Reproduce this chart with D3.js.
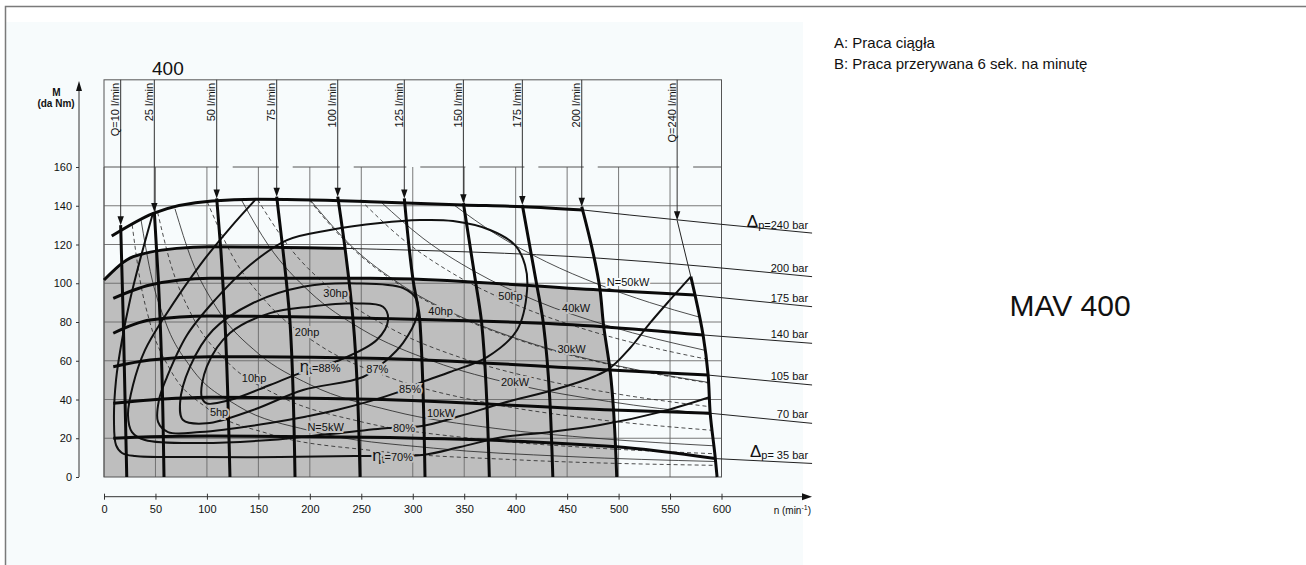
<!DOCTYPE html>
<html>
<head>
<meta charset="utf-8">
<script src="https://cdn.jsdelivr.net/npm/d3@7"></script>
<style>
  body { margin: 0; background: #fff; }
  svg text { font-family: "Liberation Sans", Arial, sans-serif; fill: #111; }
</style>
</head>
<body>
<div id="chart"></div>
<script>
// ---- data (rpm, torque in daNm) ----
const rpmTicks = [0, 50, 100, 150, 200, 250, 300, 350, 400, 450, 500, 550, 600];
const torqueTicks = [0, 20, 40, 60, 80, 100, 120, 140, 160];
const boxTop = 205;

// continuous operation area (A)
const regionA = [[0, 0], [0, 101.7], [28.5, 113.7], [70.6, 118], [103, 118.9], [234.2, 118], [237.4, 102.6],
  [258.5, 102.6], [482, 96.5], [485.2, 79.3], [491.7, 55.2], [498.2, 0]];

// pressure drop lines
const pressureNames = ['240', '200', '175', '140', '105', '70', '35'];
const p240 = [[7.5, 124.4], [47.9, 136.1], [105, 142.5], [148.4, 143.3], [258.5, 142.1], [348.9, 140.4], [407.2, 139.5], [465.5, 137.8]];
const p240thin = [[465.5, 137.8], [511, 135.2], [688, 125.9]];
const p200 = [[0, 101.7], [28.5, 113.7], [70.6, 118], [103, 118.9], [234.2, 118]];
const p200thin = [[234.2, 118], [482, 112.9], [688, 103.4]];
const p175 = [[9, 92.2], [44.7, 99.1], [103, 102.6], [258.5, 102.6], [482, 96.5], [574.3, 93.9]];
const p175thin = [[574.3, 93.9], [688, 87.9]];
const p140 = [[9, 74.2], [44.7, 81], [103, 83.1], [258.5, 81.9], [485, 77.6], [582.1, 73.3]];
const p140thin = [[582.1, 73.3], [688, 69]];
const p105 = [[9, 56.9], [44.7, 60.4], [103, 62.1], [258.5, 61.3], [492, 55.2], [587, 52.6]];
const p105thin = [[587, 52.6], [688, 47.5]];
const p70 = [[9, 38], [44.7, 39.7], [103, 41.1], [258.5, 40.1], [495, 34.6], [589, 32.9]];
const p70thin = [[589, 32.9], [688, 27.7]];
const p35 = [[9, 20], [44.7, 20.8], [103, 21.2], [258.5, 20.5], [498, 15.6], [593.8, 9.5]];
const p35thin = [[593.8, 9.5], [688, 7]];

// flow lines
const flowNames = ['Q=10 l/min', '25 l/min', '50 l/min', '75 l/min', '100 l/min', '125 l/min',
  '150 l/min', '175 l/min', '200 l/min', 'Q=240 l/min'];
const flowTips = [[16.2, 130], [48.9, 136.8], [109.5, 143.8], [167.8, 144.7], [227.1, 144.7],
  [291.8, 143.8], [349.2, 141.3], [406.5, 140.4], [464.2, 139.5], [556.9, 132.5]];
const flowCurves = [
  [[16.2, 130], [18.8, 79.3], [22.1, 0]],
  [[48.9, 136.8], [52.8, 101.7], [56.1, 56.9], [58.3, 0]],
  [[109.5, 143.8], [113.4, 118], [117.6, 79.3], [122.4, 0]],
  [[167.8, 144.7], [173.7, 118], [180.8, 79.3], [185.6, 0]],
  [[227.1, 144.7], [234.2, 118], [242.3, 79.3], [248.8, 0]],
  [[291.8, 143.8], [300.3, 101.7], [307.1, 79.3], [311.9, 0]],
  [[349.2, 141.3], [360.8, 101.7], [367, 79.3], [374.4, 0]],
  [[406.5, 140.4], [420.5, 99.1], [426.9, 79.3], [436.1, 0]],
  [[464.2, 139.5], [482, 96.5], [485.2, 79.3], [491.7, 55.2], [498.2, 0]],
  [[570.2, 103.4], [574.3, 93.9], [582.1, 73.3], [587, 52.6], [589, 33], [593.8, 10.5], [595.7, 0]]
];

// efficiency contours
const eff70 = [[47.6, 136.3], [35, 112], [25.3, 91.4], [17.5, 70.7], [11.7, 50.1], [9.7, 29.4], [11.7, 16.5], [17.5, 12.4],
  [30.1, 10.8], [93.3, 10.3], [171, 10.3], [244, 10.8], [309, 11.4], [346, 15.5], [387.8, 20.6], [433.4, 23.2],
  [482, 26.8], [540.3, 33.5], [588.9, 41.3]];
const eff80 = [[147.4, 143.3], [122.4, 128.5], [93.3, 109.4], [59.3, 83.1], [39.8, 65.5], [28.2, 47.5], [23.3, 32],
  [27.2, 23.2], [39.8, 19.1], [93.3, 17.5], [161.3, 19.1], [219.6, 22.2], [276, 25.3], [309, 26.3], [346, 31.5],
  [387.8, 38.2], [443.1, 45.9], [488.8, 55.2], [511.2, 66.6], [530.6, 79.5], [550, 91.4], [570.2, 103.4]];
const eff85 = [[309, 49], [336.2, 54.2], [372.2, 61.9], [401.4, 75.9], [411.1, 96.5], [409.1, 109.4], [399.4, 119.7],
  [375.1, 127.5], [339.2, 132.1], [307.1, 132.6], [268.2, 131.1], [219.6, 127.5], [177.8, 122.3], [141.9, 109.4],
  [107.9, 91.4], [80.7, 73.3], [61.2, 51.6], [53.4, 39.7], [52.5, 28.4], [62.2, 23.2], [93.3, 23.2], [161.3, 27.9],
  [226.1, 34.6], [283.8, 43.4]];
const eff87 = [[274.7, 60.4], [290.6, 69.2], [303.9, 82.8], [303.9, 91.4], [290.6, 97.5], [245.6, 99.9], [193.4, 98.2],
  [144.8, 89.8], [105.9, 75.9], [83.6, 57], [73.9, 38.2], [76.8, 29.4], [99.8, 27.7], [144.8, 34.6], [193.4, 44.9],
  [251.7, 51.6]];
const eff88 = [[229.3, 60.4], [265, 70.7], [276, 81], [271.1, 87.9], [245.6, 89.6], [200.2, 87.9], [161.3, 84.6],
  [122.4, 74.3], [99.8, 56.9], [94.9, 41.4], [99.8, 38], [122.4, 39.7], [161.3, 47.5], [188.5, 53.2]];

// constant power lines (kW solid, hp dashed)
const kw5 = [[36, 132.6], [45, 106.1], [60, 79.6], [85, 56.2], [130, 36.7], [200, 23.9], [320, 14.9], [450, 10.6], [594, 8]];
const kw10 = [[69, 138.4], [85, 112.3], [110, 86.8], [150, 63.7], [200, 47.7], [280, 34.1], [380, 25.1], [480, 19.9], [592.6, 16.1]];
const kw20 = [[133.5, 143], [160, 119.4], [200, 95.5], [250, 76.4], [320, 59.7], [400, 47.7], [490, 39], [589, 32.4]];
const kw30 = [[200.5, 142.9], [240, 119.4], [290, 98.8], [350, 81.9], [420, 68.2], [500, 57.3], [587.4, 48.8]];
const kw40 = [[269.2, 141.9], [310, 123.2], [360, 106.1], [420, 90.9], [490, 78], [583.9, 65.4]];
const kw50 = [[339.5, 140.6], [380, 125.6], [430, 111], [480, 99.5], [530, 90.1], [578.6, 82.5]];
const hp5 = [[27.35, 130.2], [35, 101.7], [45, 79.1], [65, 54.8], [100, 35.6], [160, 22.3], [260, 13.7], [400, 8.9], [594.2, 6]];
const hp10 = [[52.1, 136.6], [65, 109.6], [85, 83.8], [120, 59.3], [170, 41.9], [250, 28.5], [360, 19.8], [470, 15.2], [593.5, 12]];
const hp20 = [[100.3, 142], [125, 113.9], [160, 89], [210, 67.8], [280, 50.9], [370, 38.5], [470, 30.3], [590.9, 24.1]];
const hp30 = [[149.2, 143.2], [180, 118.7], [220, 97.1], [280, 76.3], [350, 61], [430, 49.7], [510, 41.9], [588.7, 36.3]];
const hp40 = [[199.4, 142.9], [240, 118.7], [290, 98.2], [350, 81.4], [420, 67.8], [500, 57], [587.4, 48.5]];
const hp50 = [[249, 143], [290, 122.8], [340, 104.7], [400, 89], [470, 75.8], [530, 67.2], [584.9, 60.9]];

// curve labels: text, rpm, torque
const curveLabels = [
  ['5hp', 111.8, 33.6], ['10hp', 145.8, 51.1], ['20hp', 197.3, 74.8], ['30hp', 225, 95],
  ['40hp', 327, 85.8], ['50hp', 395, 93.4], ['N=5kW', 215.3, 25.8], ['10kW', 327.5, 33.2],
  ['20kW', 399.4, 49.2], ['30kW', 454.3, 66.1], ['40kW', 458.7, 87.2], ['N=50kW', 509.2, 100.8],
  ['87%', 265.6, 55.7], ['85%', 297.4, 45.4], ['80%', 291.5, 25.3]
];
const etaLabels = [['88%', 210, 56.3], ['70%', 280.4, 10.5]];

// ---- drawing ----
const W = 1306, H = 565;
const svg = d3.select('#chart').append('svg').attr('width', W).attr('height', H);
svg.append('rect').attr('width', W).attr('height', H).attr('fill', '#fff');
svg.append('rect').attr('x', 6).attr('y', 22).attr('width', 797).attr('height', H - 22).attr('fill', '#f7fbfc');
svg.append('path').attr('d', `M5.5,${H}V6.5H${W}`).attr('fill', 'none').attr('stroke', '#7a7a7a').attr('stroke-width', 1.5);

const x = d3.scaleLinear().domain([0, 600]).range([104, 721.5]);
const y = d3.scaleLinear().domain([0, 160]).range([477, 167]);
const line = d3.line().x(d => x(d[0])).y(d => y(d[1]));
const smooth = d3.line().x(d => x(d[0])).y(d => y(d[1])).curve(d3.curveMonotoneX);
const smoothY = d3.line().x(d => x(d[0])).y(d => y(d[1])).curve(d3.curveMonotoneY);
const loop = d3.line().x(d => x(d[0])).y(d => y(d[1])).curve(d3.curveCatmullRom.alpha(0.5));
const loopClosed = d3.line().x(d => x(d[0])).y(d => y(d[1])).curve(d3.curveCatmullRomClosed.alpha(0.5));

const g = svg.append('g');

// grey area A
g.append('path').datum(regionA).attr('d', line).attr('fill', '#bebebe');

// grid
g.selectAll('.vgrid').data(rpmTicks).enter().append('line')
  .attr('x1', d => x(d)).attr('x2', d => x(d)).attr('y1', y(0)).attr('y2', y(160))
  .attr('stroke', '#6a6a6a').attr('stroke-width', 0.9);
g.selectAll('.hgrid').data(torqueTicks.filter(d => d > 0 && d < 160)).enter().append('line')
  .attr('x1', x(0)).attr('x2', x(600)).attr('y1', d => y(d)).attr('y2', d => y(d))
  .attr('stroke', '#6a6a6a').attr('stroke-width', 0.9);
g.append('rect').attr('x', x(0)).attr('y', y(boxTop)).attr('width', x(600) - x(0)).attr('height', y(0) - y(boxTop))
  .attr('fill', 'none').attr('stroke', '#555').attr('stroke-width', 1);

// broken 160 line: gaps right after the flow lines from 50 l/min on
const segs = [];
let start = x(0);
flowTips.slice(2).forEach(t => {
  segs.push([start, x(t[0]) + 2]);
  start = x(t[0]) + 16;
});
segs.push([start, x(600)]);
g.selectAll('.seg160').data(segs).enter().append('line')
  .attr('x1', d => d[0]).attr('x2', d => d[1]).attr('y1', y(160)).attr('y2', y(160))
  .attr('stroke', '#555').attr('stroke-width', 1);

// constant power lines
[kw5, kw10, kw20, kw30, kw40, kw50].forEach(c => {
  g.append('path').datum(c).attr('d', smooth).attr('fill', 'none').attr('stroke', '#222').attr('stroke-width', 0.8);
});
[hp5, hp10, hp20, hp30, hp40, hp50].forEach(c => {
  g.append('path').datum(c).attr('d', smooth).attr('fill', 'none').attr('stroke', '#222')
    .attr('stroke-width', 0.8).attr('stroke-dasharray', '4,3');
});

// efficiency contours
[eff70, eff80].forEach(c => {
  g.append('path').datum(c).attr('d', loop).attr('fill', 'none').attr('stroke', '#111').attr('stroke-width', 2);
});
[eff85, eff87, eff88].forEach(c => {
  g.append('path').datum(c).attr('d', loopClosed).attr('fill', 'none').attr('stroke', '#111').attr('stroke-width', 2);
});

// pressure lines
const pressThick = [p240, p200, p175, p140, p105, p70, p35];
const pressThin = [p240thin, p200thin, p175thin, p140thin, p105thin, p70thin, p35thin];
pressThin.forEach(c => {
  g.append('path').datum(c).attr('d', smooth).attr('fill', 'none').attr('stroke', '#222').attr('stroke-width', 1);
});
pressThick.forEach(c => {
  g.append('path').datum(c).attr('d', smooth).attr('fill', 'none').attr('stroke', '#0a0a0a').attr('stroke-width', 3);
});

// flow lines
flowTips.forEach((t, i) => {
  const xt = x(t[0]), yt = y(t[1]);
  g.append('line').attr('x1', xt).attr('x2', xt).attr('y1', y(boxTop)).attr('y2', yt - 4)
    .attr('stroke', '#333').attr('stroke-width', 1);
  g.append('path').attr('d', `M${xt},${yt}L${xt - 3.2},${yt - 9}L${xt + 3.2},${yt - 9}Z`).attr('fill', '#111');
  g.append('text').attr('transform', `translate(${xt - 1.5},${y(boxTop) + 3}) rotate(-90)`)
    .attr('text-anchor', 'end').attr('font-size', 11).text(flowNames[i]);
});
// thin link on the 240 l/min line down to its thick part
g.append('path').datum([flowTips[9], flowCurves[9][0]]).attr('d', line)
  .attr('fill', 'none').attr('stroke', '#222').attr('stroke-width', 1);
flowCurves.forEach(c => {
  g.append('path').datum(c).attr('d', smoothY).attr('fill', 'none').attr('stroke', '#0a0a0a').attr('stroke-width', 3);
});

// pressure labels at right
pressThin.forEach((c, i) => {
  const last = c[c.length - 1];
  const t = g.append('text').attr('x', x(last[0]) - 4).attr('y', y(last[1]) - 5)
    .attr('text-anchor', 'end').attr('font-size', 11);
  if (i === 0 || i === pressThin.length - 1) {
    t.append('tspan').attr('font-size', 17).attr('dy', -1).text('Δ');
    t.append('tspan').attr('dy', 2).text('p=' + (i === 0 ? '' : ' ') + pressureNames[i] + ' bar');
  } else {
    t.text(pressureNames[i] + ' bar');
  }
});

// curve labels with halo
function inA(d) { return d[0] < 480 && d[1] < 96; }
curveLabels.forEach(d => {
  g.append('text').attr('x', x(d[1])).attr('y', y(d[2]) + 4).attr('text-anchor', 'middle')
    .attr('font-size', 11).attr('stroke', inA([d[1], d[2]]) ? '#bebebe' : '#f7fbfc')
    .attr('stroke-width', 4).attr('paint-order', 'stroke').text(d[0]);
});
etaLabels.forEach(d => {
  const t = g.append('text').attr('x', x(d[1])).attr('y', y(d[2]) + 4).attr('text-anchor', 'middle')
    .attr('font-size', 11).attr('stroke', '#bebebe').attr('stroke-width', 4).attr('paint-order', 'stroke');
  t.append('tspan').attr('font-size', 17).text('η');
  t.append('tspan').attr('font-size', 10).attr('dy', 2).text('t');
  t.append('tspan').attr('dy', -2).text('=' + d[0]);
});

// y axis
const yAxisX = 79;
const yAxis = svg.append('g').attr('transform', `translate(${yAxisX},0)`)
  .call(d3.axisLeft(y).tickValues(torqueTicks).tickSize(3).tickPadding(4));
yAxis.select('.domain').remove();
yAxis.selectAll('text').attr('font-size', 11).attr('font-family', '"Liberation Sans", Arial, sans-serif').attr('fill', '#111');
yAxis.selectAll('line').attr('stroke', '#333');
svg.append('line').attr('x1', yAxisX).attr('x2', yAxisX).attr('y1', y(0)).attr('y2', 89).attr('stroke', '#333');
svg.append('path').attr('d', `M${yAxisX},81L${yAxisX - 3},91L${yAxisX + 3},91Z`).attr('fill', '#111');
svg.append('text').attr('x', 56.5).attr('y', 96).attr('text-anchor', 'middle').attr('font-size', 10)
  .attr('font-weight', 'bold').text('M');
svg.append('text').attr('x', 56).attr('y', 106.5).attr('text-anchor', 'middle').attr('font-size', 10)
  .attr('font-weight', 'bold').text('(da Nm)');

// x axis
const xAxisY = 496.7;
const xAxis = svg.append('g').attr('transform', `translate(0,${xAxisY})`)
  .call(d3.axisBottom(x).tickValues(rpmTicks).tickSize(3).tickPadding(6));
xAxis.select('.domain').remove();
xAxis.selectAll('.tick line').attr('y1', -3).attr('stroke', '#333');
xAxis.selectAll('text').attr('font-size', 11).attr('font-family', '"Liberation Sans", Arial, sans-serif').attr('fill', '#111');
svg.append('line').attr('x1', x(0)).attr('x2', 804).attr('y1', xAxisY).attr('y2', xAxisY).attr('stroke', '#333');
svg.append('path').attr('d', `M812,${xAxisY}L802,${xAxisY - 3.5}L802,${xAxisY + 3.5}Z`).attr('fill', '#111');
const nt = svg.append('text').attr('x', 811).attr('y', 514).attr('text-anchor', 'end').attr('font-size', 10);
nt.append('tspan').text('n (min');
nt.append('tspan').attr('font-size', 7).attr('dy', -4).text('-1');
nt.append('tspan').attr('dy', 4).text(')');

// titles
svg.append('text').attr('x', 152).attr('y', 75).attr('font-size', 19).text('400');
svg.append('text').attr('x', 834).attr('y', 47.5).attr('font-size', 15).text('A: Praca ciągła');
svg.append('text').attr('x', 834).attr('y', 69).attr('font-size', 15).text('B: Praca przerywana 6 sek. na minutę');
svg.append('text').attr('x', 1070).attr('y', 316).attr('text-anchor', 'middle').attr('font-size', 30).text('MAV 400');
</script>
</body>
</html>
